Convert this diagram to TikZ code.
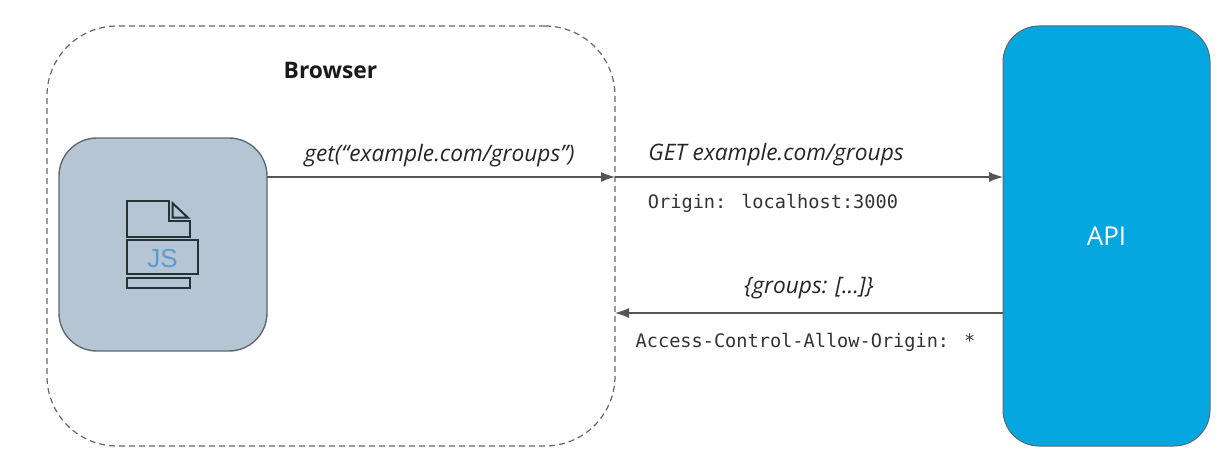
\documentclass[tikz,border=0pt]{standalone}
\usepackage{fontspec}
\setmainfont{Open Sans}
\newfontfamily\codefont{DejaVu Sans Mono}
\newfontfamily\jsfont{Liberation Sans}
\usetikzlibrary{arrows.meta}
\definecolor{boxgray}{HTML}{B6C5D3}
\definecolor{edgegray}{HTML}{5F6A70}
\definecolor{apiblue}{HTML}{03A6DF}
\definecolor{iconink}{HTML}{263238}
\definecolor{jsblue}{HTML}{5B9BD2}
\definecolor{linegray}{HTML}{555555}
\tikzset{
  browserbox/.style={draw=edgegray,dash pattern=on 6pt off 4pt,line width=1.2pt,rounded corners=70pt,minimum width=568pt,minimum height=420pt,inner sep=0pt,outer sep=0pt},
  jsbox/.style={draw=edgegray,fill=boxgray,line width=1.4pt,rounded corners=38pt,minimum width=208pt,minimum height=213pt,inner sep=0pt,outer sep=0pt},
  apibox/.style={draw=edgegray,fill=apiblue,line width=1pt,rounded corners=36pt,minimum width=207pt,minimum height=420pt,inner sep=0pt,outer sep=0pt,text=white,font=\fontsize{26}{30}\selectfont},
  link/.style={draw=linegray,line width=1.1pt,-{Latex[length=14pt,width=10pt]}},
  icon/.style={draw=iconink,line width=2pt},
  call/.style={inner sep=0pt,text=black!85,font=\fontsize{22.7}{27}\selectfont\itshape},
  code/.style={inner sep=0pt,text=black!80,font=\fontsize{18.6}{23}\selectfont\codefont},
}
\begin{document}
\begin{tikzpicture}[x=1pt,y=-1pt]
\useasboundingbox (0,0) rectangle (1221,465);
\node[browserbox] (browser) at (331,236) {};
\node[jsbox] (js) at (163,244.5) {};
\node[apibox] (api) at (1106.5,236) {API};
\coordinate (reqlevel) at (0,177);
\coordinate (reslevel) at (0,313);
\draw[link] (js.east |- reqlevel) -- (browser.east |- reqlevel);
\draw[link] (browser.east |- reqlevel) -- (api.west |- reqlevel);
\draw[link] (api.west |- reslevel) -- (browser.east |- reslevel);
\node[inner sep=0pt,text=black!90,font=\fontsize{22.8}{27}\selectfont\bfseries] (title) at (330.5,70) {Browser};
\node[call] (l1) at (439.5,155.5) {get(“example.com/groups”)};
\node[call] (l2) at (776,154.5) {GET example.com/groups};
\node[code] (l3) at (773,203) {Origin: localhost:3000};
\node[call] (l4) at (809,288) {\{groups: [...]\}};
\node[code] (l5) at (805.5,342) {Access-Control-Allow-Origin: *};
\draw[icon] (127,201) -- (169.3,201) -- (169.3,220.7) -- (190,220.7) -- (190,237.3) -- (127,237.3) -- cycle;
\draw[icon,line join=miter] (172.7,203.3) -- (172.7,217.7) -- (188,217.7) -- cycle;
\draw[icon] (127,240.3) rectangle (198.3,274.3);
\draw[icon] (127,277.7) rectangle (190.3,287.7);
\node[inner sep=0pt,text=jsblue,font=\fontsize{26}{30}\selectfont\jsfont] (jslabel) at (162.5,258.5) {JS};
\end{tikzpicture}
\end{document}
